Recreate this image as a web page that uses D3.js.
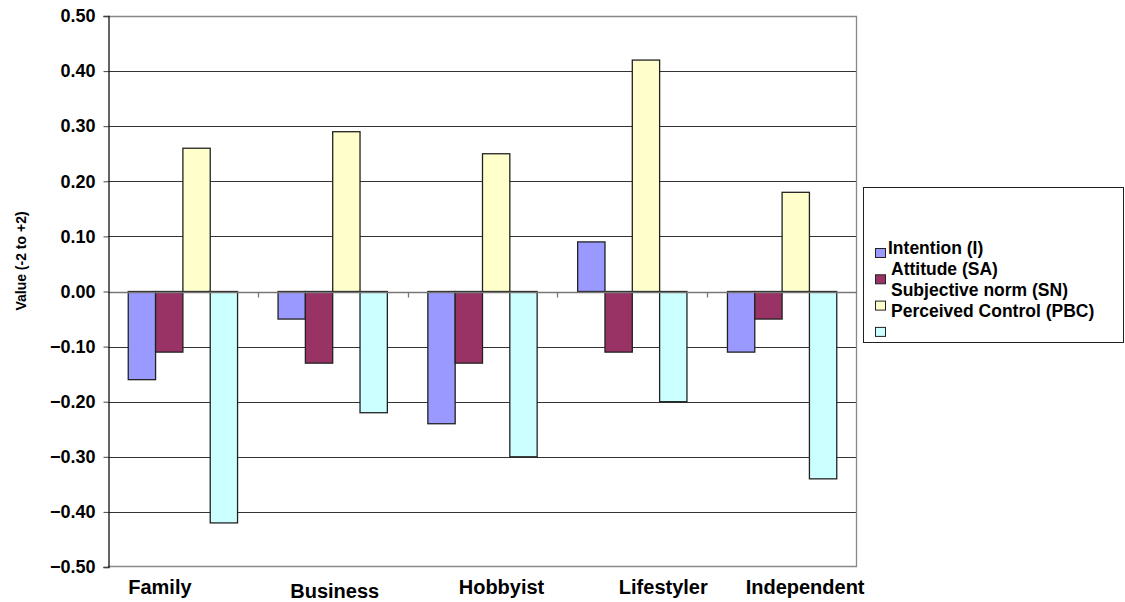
<!DOCTYPE html>
<html>
<head>
<meta charset="utf-8">
<script src="https://cdn.jsdelivr.net/npm/d3@7"></script>
<style>
  body { margin: 0; background: #fff; }
  text { font-family: Arial, "Liberation Sans", sans-serif; font-weight: bold; }
</style>
</head>
<body>
<script>
// DATA
const categories = ['Family', 'Business', 'Hobbyist', 'Lifestyler', 'Independent'];
const seriesNames = ['Intention (I)', 'Attitude (SA)', 'Subjective norm (SN)', 'Perceived Control (PBC)'];
const intention = [-0.16, -0.05, -0.24, 0.09, -0.11];
const attitude = [-0.11, -0.13, -0.13, -0.11, -0.05];
const subjectiveNorm = [0.26, 0.29, 0.25, 0.42, 0.18];
const perceivedControl = [-0.42, -0.22, -0.30, -0.20, -0.34];
const yTicks = [0.5, 0.4, 0.3, 0.2, 0.1, 0, -0.1, -0.2, -0.3, -0.4, -0.5];
const yLabel = 'Value (-2 to +2)';

const seriesValues = [intention, attitude, subjectiveNorm, perceivedControl];
const colors = ['#9999ff', '#993366', '#ffffcc', '#ccffff'];
// horizontal nudges of the category labels, as placed in the original
const labelShift = [-23, 2, 19, 31, 23];
const labelDrop = [0, 4, 0, 0, 0];

const width = 1125;
const height = 602;
const plot = { left: 108, right: 857, top: 16, bottom: 567 };

const svg = d3.select('body')
  .append('svg')
  .attr('width', width)
  .attr('height', height);

// SCALES
const xScale = d3.scaleBand()
  .domain(categories)
  .range([plot.left, plot.right]);

const barScale = d3.scaleBand()
  .domain(d3.range(seriesNames.length))
  .range([20.25, xScale.bandwidth() - 20.25]);

const yScale = d3.scaleLinear()
  .domain([-0.5, 0.5])
  .range([plot.bottom, plot.top]);

// GRIDLINES
svg.append('g')
  .selectAll('line')
  .data(yTicks.filter(d => d !== 0.5 && d !== -0.5 && d !== 0))
  .enter()
  .append('line')
  .attr('x1', plot.left)
  .attr('x2', plot.right)
  .attr('y1', d => Math.round(yScale(d)) + 0.5)
  .attr('y2', d => Math.round(yScale(d)) + 0.5)
  .attr('stroke', '#333')
  .attr('stroke-width', 1);

// plot border (top/right/bottom)
svg.append('path')
  .attr('d', `M${plot.left},${plot.top + 0.5}H${plot.right - 0.5}V${plot.bottom - 0.5}H${plot.left}`)
  .attr('fill', 'none')
  .attr('stroke', '#888')
  .attr('stroke-width', 1.3);

// BARS
const groups = svg.append('g')
  .selectAll('g')
  .data(categories)
  .enter()
  .append('g')
  .attr('transform', d => `translate(${xScale(d)},0)`);

groups.selectAll('rect')
  .data((d, ci) => seriesValues.map((s, si) => ({ si, v: s[ci] })))
  .enter()
  .append('rect')
  .attr('x', d => barScale(d.si))
  .attr('width', barScale.bandwidth())
  .attr('y', d => yScale(Math.max(0, d.v)))
  .attr('height', d => Math.abs(yScale(d.v) - yScale(0)))
  .attr('fill', d => colors[d.si])
  .attr('stroke', '#222')
  .attr('stroke-width', 1.3);

// ZERO LINE with category ticks
const zeroY = Math.round(yScale(0)) + 0.5;
svg.append('line')
  .attr('x1', plot.left)
  .attr('x2', plot.right)
  .attr('y1', zeroY)
  .attr('y2', zeroY)
  .attr('stroke', '#777')
  .attr('stroke-width', 1.3);

svg.append('g')
  .selectAll('line')
  .data(categories.slice(1))
  .enter()
  .append('line')
  .attr('x1', d => Math.round(xScale(d)) + 0.5)
  .attr('x2', d => Math.round(xScale(d)) + 0.5)
  .attr('y1', zeroY)
  .attr('y2', zeroY + 5)
  .attr('stroke', '#777')
  .attr('stroke-width', 1.3);

// Y-AXIS
const yAxis = d3.axisLeft(yScale)
  .tickValues(yTicks)
  .tickFormat(d3.format('.2f'))
  .tickSize(5)
  .tickPadding(8);

const yAxisG = svg.append('g')
  .attr('transform', `translate(${plot.left + 0.5},0)`)
  .call(yAxis);

yAxisG.select('.domain').attr('stroke', '#111').attr('stroke-width', 1.3);
yAxisG.selectAll('.tick line').attr('stroke', '#444');
yAxisG.selectAll('.tick text')
  .attr('font-size', 18)
  .attr('font-family', 'Arial, "Liberation Sans", sans-serif')
  .attr('font-weight', 'bold')
  .attr('fill', '#000');

// Y LABEL
svg.append('text')
  .attr('transform', `translate(26,261) rotate(-90)`)
  .attr('text-anchor', 'middle')
  .attr('font-size', 14)
  .text(yLabel);

// CATEGORY LABELS
svg.append('g')
  .selectAll('text')
  .data(categories)
  .enter()
  .append('text')
  .attr('x', (d, i) => xScale(d) + xScale.bandwidth() / 2 + labelShift[i])
  .attr('y', (d, i) => 594 + labelDrop[i])
  .attr('text-anchor', 'middle')
  .attr('font-size', 20)
  .text(d => d);

// LEGEND
const legend = svg.append('g');
legend.append('rect')
  .attr('x', 863.5)
  .attr('y', 187.5)
  .attr('width', 260)
  .attr('height', 155)
  .attr('fill', '#fff')
  .attr('stroke', '#222')
  .attr('stroke-width', 1);

const items = legend.selectAll('g')
  .data(seriesNames)
  .enter()
  .append('g');

items.append('rect')
  .attr('x', 875.5)
  .attr('y', (d, i) => 248.5 + i * 26.3)
  .attr('width', 10)
  .attr('height', 9)
  .attr('fill', (d, i) => colors[i])
  .attr('stroke', '#222')
  .attr('stroke-width', 1);

items.append('text')
  .attr('x', (d, i) => (i === 0 ? 888 : 891))
  .attr('y', (d, i) => 254 + i * 21)
  .attr('font-size', 17.5)
  .text(d => d);
</script>
</body>
</html>
